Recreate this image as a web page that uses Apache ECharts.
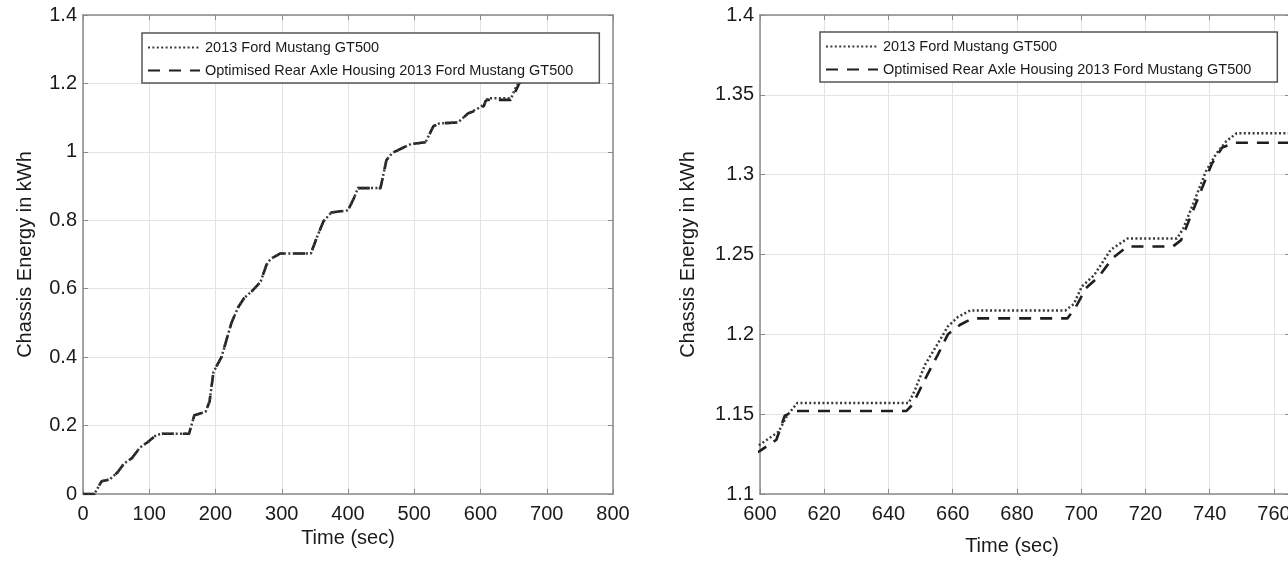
<!DOCTYPE html>
<html>
<head>
<meta charset="utf-8">
<script src="https://cdn.jsdelivr.net/npm/echarts@6/dist/echarts.min.js"></script>
<style>
html,body{margin:0;padding:0;background:#fff;}
#chart{width:1288px;height:561px;}
</style>
</head>
<body>
<div id="chart"></div>
<script>
// ---- data ----
const seriesNames = ['2013 Ford Mustang GT500', 'Optimised Rear Axle Housing 2013 Ford Mustang GT500'];

const mustangTime = [0,17,28,40,52,62,74,86,98,111,120,160,168,185,191,197,209,218,224,234,243,255,268,277,283,298,344,354,363,375,400,409,415,449,458,467,483,495,517,529,538,566,581,597,
  600,605.8,608.4,611.6,646.3,648.2,651.4,655.3,658.5,661.7,665.5,695.1,697.7,700.2,704,709.2,714.4,729.8,731.7,734.9,738.8,742,745.2,748.4,766];
const mustangEnergy = [0,0,0.037,0.042,0.063,0.089,0.105,0.136,0.152,0.173,0.176,0.176,0.23,0.24,0.27,0.357,0.40,0.46,0.50,0.545,0.572,0.593,0.62,0.67,0.687,0.703,0.703,0.755,0.797,0.823,0.829,0.865,0.894,0.894,0.976,0.997,1.012,1.023,1.028,1.075,1.083,1.086,1.112,1.128,
  1.131,1.139,1.149,1.157,1.157,1.165,1.181,1.194,1.205,1.211,1.215,1.215,1.219,1.23,1.237,1.253,1.26,1.26,1.266,1.282,1.302,1.313,1.321,1.326,1.326];

const optimisedTime = [0,17,28,40,52,62,74,86,98,111,120,160,168,185,191,197,209,218,224,234,243,255,268,277,283,298,344,354,363,375,400,409,415,449,458,467,483,495,517,529,538,566,581,597,
  600,605.1,607.7,610.9,645.6,647.5,651.4,655.3,658.5,662.3,666.2,695.7,698.3,701.5,705.4,709.9,714.4,728.5,731.1,734.3,737.5,740.7,743.9,747.8,766];
const optimisedEnergy = [0,0,0.037,0.042,0.063,0.089,0.105,0.136,0.152,0.173,0.176,0.176,0.23,0.24,0.27,0.357,0.40,0.46,0.50,0.545,0.572,0.593,0.62,0.67,0.687,0.703,0.703,0.755,0.797,0.823,0.829,0.865,0.894,0.894,0.976,0.997,1.012,1.023,1.028,1.075,1.083,1.086,1.112,1.124,
  1.127,1.134,1.149,1.152,1.152,1.156,1.172,1.187,1.2,1.206,1.21,1.21,1.217,1.229,1.236,1.248,1.255,1.255,1.259,1.275,1.291,1.307,1.317,1.32,1.32];

// tick values
const leftXTicks  = [0,100,200,300,400,500,600,700,800];
const leftYTicks  = [0,0.2,0.4,0.6,0.8,1,1.2,1.4];
const rightXTicks = [600,620,640,660,680,700,720,740,760];
const rightYTicks = [1.1,1.15,1.2,1.25,1.3,1.35,1.4];

const xTitle = 'Time (sec)';
const yTitle = 'Chassis Energy in kWh';

// ---- chart ----
const FONT = 'Liberation Sans, Arial, Helvetica, sans-serif';
const frame = {show:true, onZero:false, lineStyle:{color:'#8a8a8a', width:1.5}};
const tickIn = (vals)=>({show:true, inside:true, length:5, customValues:vals, lineStyle:{color:'#8a8a8a', width:1}});
const grid = {show:true, lineStyle:{color:'#e3e3e3', width:1}};
const lbl = {color:'#1a1a1a', fontSize:20, fontFamily:FONT};

function pairs(t, v){ return t.map((x,i)=>[x, v[i]]); }

function mainX(gi, min, max, ticks, gap, shift){
  return {type:'value', gridIndex:gi, min, max, position:'bottom',
    axisLine:frame, axisTick:tickIn(ticks), splitLine:grid,
    axisLabel:Object.assign({margin:10, customValues:ticks}, lbl),
    name:xTitle, nameLocation:'middle', nameGap:gap,
    nameTextStyle:{color:'#1a1a1a', fontSize:20, fontFamily:FONT, padding:[0, shift, 0, 0]}};
}
function topX(gi, min, max, ticks){
  return {type:'value', gridIndex:gi, min, max, position:'top',
    axisLine:frame, axisTick:tickIn(ticks), splitLine:{show:false},
    axisLabel:{show:false, customValues:ticks}};
}
function mainY(gi, min, max, ticks, gap){
  return {type:'value', gridIndex:gi, min, max, position:'left',
    axisLine:frame, axisTick:tickIn(ticks), splitLine:grid,
    axisLabel:Object.assign({margin:6, customValues:ticks}, lbl),
    name:yTitle, nameLocation:'middle', nameGap:gap,
    nameTextStyle:{color:'#1a1a1a', fontSize:20, fontFamily:FONT}};
}
function rightY(gi, min, max, ticks){
  return {type:'value', gridIndex:gi, min, max, position:'right',
    axisLine:frame, axisTick:tickIn(ticks), splitLine:{show:false},
    axisLabel:{show:false, customValues:ticks}};
}

function lineSeries(name, t, v, xi, yi, dotted){
  const c = dotted ? '#3a3a3a' : '#1e1e1e';
  return {name, type:'line', xAxisIndex:xi, yAxisIndex:yi, data:pairs(t,v),
    symbol:'none', clip:true, animation:false, z: dotted ? 3 : 2,
    itemStyle:{color:c},
    lineStyle: dotted
      ? {color:c, width:2.5, type:[2,2.4], cap:'butt'}
      : {color:c, width:2.6, type:[12,9], cap:'butt'}};
}

function legend(left, top){
  return {show:true, orient:'vertical', left, top,
    backgroundColor:'#ffffff', borderColor:'#555555', borderWidth:1.5,
    padding:[7,26,5,5], itemGap:8, itemWidth:52, itemHeight:14,
    textStyle:{color:'#1a1a1a', fontSize:14.5, fontFamily:FONT},
    itemStyle:{opacity:0},
    selectedMode:false,
    data:seriesNames.map(n=>({name:n, itemStyle:{opacity:0}}))};
}

const chart = echarts.init(document.getElementById('chart'), null, {renderer:'canvas'});
chart.setOption({
  backgroundColor:'#ffffff',
  animation:false,
  grid:[
    {left:83, top:15, width:530, height:479, containLabel:false, outerBoundsMode:'none'},
    {left:760, top:15, width:530, height:479, containLabel:false, outerBoundsMode:'none'}
  ],
  xAxis:[
    mainX(0, 0, 800, leftXTicks, 34, 0),
    topX(0, 0, 800, leftXTicks),
    mainX(1, 600, 765, rightXTicks, 42, 26),
    topX(1, 600, 765, rightXTicks)
  ],
  yAxis:[
    mainY(0, 0, 1.4, leftYTicks, 48),
    rightY(0, 0, 1.4, leftYTicks),
    mainY(1, 1.1, 1.4, rightYTicks, 62),
    rightY(1, 1.1, 1.4, rightYTicks)
  ],
  legend:[legend(142, 33), legend(820, 32)],
  series:[
    lineSeries(seriesNames[1], optimisedTime, optimisedEnergy, 0, 0, false),
    lineSeries(seriesNames[0], mustangTime, mustangEnergy, 0, 0, true),
    lineSeries(seriesNames[1], optimisedTime, optimisedEnergy, 2, 2, false),
    lineSeries(seriesNames[0], mustangTime, mustangEnergy, 2, 2, true)
  ]
});
</script>
</body>
</html>
